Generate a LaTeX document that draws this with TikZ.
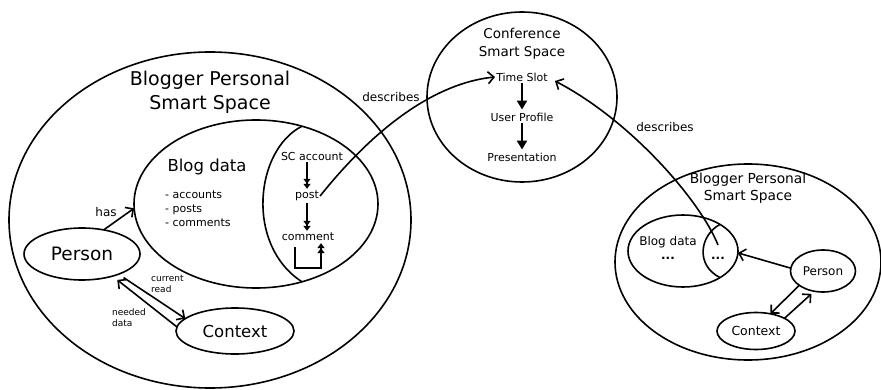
\documentclass[tikz,border=0pt]{standalone}
\usepackage{fontspec}
\setmainfont{DejaVu Sans}
\usetikzlibrary{arrows.meta,shapes.geometric}
\newcommand{\setfs}[2]{\fontsize{#1}{#2}\selectfont}
\tikzset{
  x=1pt, y=-1pt,
  space/.style={ellipse, draw, line width=1.6pt, inner sep=0pt, outer sep=0pt},
  lensline/.style={line width=1.6pt},
  oarr/.style={line width=1.6pt, -{Straight Barb[length=6pt,width=12pt]}},
  farr/.style={line width=2.2pt, -{Triangle[length=9pt,width=10pt]}},
  darr/.style={line width=1.7pt, -{Triangle[length=5pt,width=7pt] Triangle[length=5pt,width=7pt]}},
  lbl/.style={inner sep=1pt},
}
\begin{document}
\begin{tikzpicture}
\useasboundingbox (0,0) rectangle (881,390);

% ---- left personal smart space ----
\node[space, minimum width=402pt, minimum height=336pt] (lbps) at (210,220) {};
\node[lbl, font=\setfs{19}{24}, align=center] (lbpst) at (210,92) {Blogger Personal\\Smart Space};

\node[space, minimum width=244pt, minimum height=168pt] (lblog) at (256,204) {};
\draw[lensline] (302,126.2) .. controls (255,150) and (245,245) .. (302,281.8);
\node[lbl, font=\setfs{16.5}{20}] (lblogt) at (207,167) {Blog data};
\node[lbl, font=\setfs{11}{14}, align=left, anchor=west] (llist) at (164,209) {- accounts\\- posts\\- comments};

\node[lbl, font=\setfs{11}{14}] (scacc) at (312,156) {SC account};
\node[lbl, font=\setfs{11}{14}] (post) at (307,196) {post};
\node[lbl, font=\setfs{11}{14}] (cmt) at (308,237) {comment};
\draw[darr] ([yshift=-1pt]post.north |- scacc.south) -- ([yshift=1pt]post.north);
\draw[darr] ([yshift=-1pt]post.south) -- ([yshift=1pt]post.south |- cmt.north);
\draw[darr] ([xshift=-13pt,yshift=-5pt]cmt.south) -- ++(0,21) -| ([xshift=13pt,yshift=-1pt]cmt.south);

\node[space, minimum width=116pt, minimum height=52pt, font=\setfs{18.5}{22}] (lp) at (82,254) {Person};
\node[space, minimum width=118pt, minimum height=46pt, font=\setfs{16.5}{20}] (lc) at (235,331) {Context};

\draw[oarr] (lp.48) -- (lblog.182);
\node[lbl, font=\setfs{12}{14}] (has) at (106,212) {has};

\draw[oarr] ([shift={(6,3)}]lp.-30) -- (lc.166);
\draw[oarr] (lc.176) -- ([shift={(4,4)}]lp.-35);
\node[lbl, font=\setfs{9}{11}, align=left, anchor=west] (curr) at (150,284) {current\\read};
\node[lbl, font=\setfs{9}{11}, align=left, anchor=west] (need) at (111,318) {needed\\data};

% ---- conference smart space ----
\node[space, minimum width=190pt, minimum height=170pt] (conf) at (522,97) {};
\node[lbl, font=\setfs{13.5}{18}, align=center] (conft) at (522,44) {Conference\\Smart Space};
\node[lbl, font=\setfs{11}{14}] (ts) at (522,77) {Time Slot};
\node[lbl, font=\setfs{11}{14}] (up) at (522,117) {User Profile};
\node[lbl, font=\setfs{11}{14}] (pres) at (522,157) {Presentation};
\draw[farr] ([yshift=-1pt]ts.south) -- ([yshift=2pt]up.north);
\draw[farr] ([yshift=-1pt]up.south) -- ([yshift=2pt]pres.north);

% ---- right personal smart space ----
\node[space, minimum width=266pt, minimum height=196pt] (rbps) at (748,262) {};
\node[lbl, font=\setfs{13.8}{17}, align=center] (rbpst) at (748,188) {Blogger Personal\\Smart Space};
\node[space, minimum width=110pt, minimum height=72pt] (rb) at (683,251) {};
\draw[lensline] (720,224.4) .. controls (700,235) and (695,265) .. (720,277.6);
\node[lbl, font=\setfs{12}{14}] (rbt) at (668,242) {Blog data};
\node[lbl, font=\setfs{12}{14}\bfseries] (rdl) at (668,258) {...};
\node[lbl, font=\setfs{12}{14}\bfseries] (rdots) at (718,258) {...};

\node[space, minimum width=65pt, minimum height=42pt, font=\setfs{12}{14}] (rp) at (823,271) {Person};
\node[space, minimum width=78pt, minimum height=37pt, font=\setfs{12.5}{14}] (rc) at (756,331) {Context};
\draw[oarr] (rp.175) -- (rb.358);
\draw[oarr] (rp.211) -- (rc.50);
\draw[oarr] (rc.24) -- ([shift={(-1,3)}]rp.242);

% ---- describes links ----
\draw[oarr] (post.east) .. controls (385,115) and (445,82) .. (ts.west);
\node[lbl, font=\setfs{12}{14}] (desc1) at (391,97) {describes};
\draw[oarr] ([yshift=13pt]rdots.center) .. controls (700,200) and (630,120) .. ([shift={(6,4)}]ts.east);
\node[lbl, font=\setfs{12}{14}] (desc2) at (665,127) {describes};
\end{tikzpicture}
\end{document}
